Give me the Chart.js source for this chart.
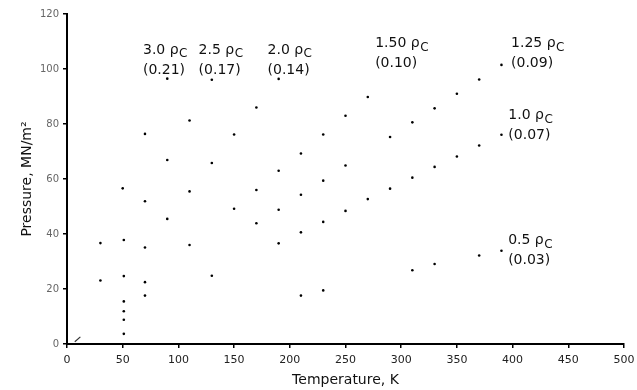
<!DOCTYPE html>
<html>
<head>
<meta charset="utf-8">
<script src="https://cdn.jsdelivr.net/npm/chart.js@4/dist/chart.umd.min.js"></script>
<style>
  html, body { margin: 0; padding: 0; background: #fff; }
  #wrap { width: 637px; height: 390px; }
</style>
</head>
<body>
<div id="wrap"><canvas id="myChart"></canvas></div>
<script>
// isochore points, temperature (K) and pressure (MN/m2)
var t30 = [30, 50, 70, 90];
var p30 = [36.7, 56.6, 76.4, 96.5];
var t25 = [30, 51, 70, 90, 110, 130];
var p25 = [23.1, 37.8, 51.9, 66.9, 81.3, 96.1];
var t20 = [51, 70, 90, 110, 130, 150, 170, 190];
var p20 = [24.7, 35.1, 45.5, 55.5, 65.8, 76.2, 86, 96.4];
var t150 = [70, 110, 150, 170, 190, 210, 230, 250, 270];
var p150 = [22.5, 36, 49.2, 56, 63, 69.3, 76.2, 83, 89.8];
var t125 = [70, 170, 190, 210, 230, 250, 290, 310, 330, 350, 370, 390];
var p125 = [17.6, 43.9, 48.8, 54.3, 59.4, 64.9, 75.3, 80.6, 85.7, 91, 96.2, 101.5];
var t10 = [130, 190, 210, 230, 250, 270, 290, 310, 330, 350, 370, 390];
var p10 = [24.8, 36.6, 40.6, 44.4, 48.4, 52.7, 56.5, 60.5, 64.4, 68.2, 72.2, 76.1];
var t05 = [210, 230, 310, 330, 370, 390];
var p05 = [17.6, 19.5, 26.8, 29.1, 32.2, 33.9];
var tSat = [51, 51, 51, 51];
var pSat = [3.7, 8.8, 11.9, 15.5];
var tCurl = [7, 12];
var pCurl = [0.8, 2.6];

// density labels
var densTxt = ['3.0', '2.5', '2.0', '1.50', '1.25', '1.0', '0.5'];
var densVal = ['(0.21)', '(0.17)', '(0.14)', '(0.10)', '(0.09)', '(0.07)', '(0.03)'];
var densT = [68.2, 118.1, 180, 276.6, 398.6, 396.2, 396];
var densP = [106.9, 106.9, 106.9, 109.2, 109.2, 83, 37.6];

var xTicks = [0, 50, 100, 150, 200, 250, 300, 350, 400, 450, 500];
var yTicks = [0, 20, 40, 60, 80, 100, 120];

function pts(ts, ps) {
    var out = [];
    for (var i = 0; i < ts.length; i++) out.push({x: ts[i], y: ps[i]});
    return out;
}

function dotSet(ts, ps) {
    return {
        data: pts(ts, ps),
        showLine: false,
        pointRadius: 1.3,
        pointBackgroundColor: '#000',
        pointBorderWidth: 0
    };
}

var FONT = '"DejaVu Sans", sans-serif';

const labelPlugin = {
    id: 'densLabels',
    afterDatasetsDraw(chart) {
        const ctx = chart.ctx;
        const xs = chart.scales.x, ys = chart.scales.y;
        ctx.save();
        ctx.fillStyle = '#111';
        ctx.textBaseline = 'middle';
        ctx.textAlign = 'left';
        for (var i = 0; i < densTxt.length; i++) {
            var px = xs.getPixelForValue(densT[i]);
            var py = ys.getPixelForValue(densP[i]);
            ctx.font = '14px ' + FONT;
            var main = densTxt[i] + ' \u03c1';
            ctx.fillText(main, px, py);
            var w = ctx.measureText(main).width;
            ctx.font = '12px ' + FONT;
            ctx.fillText('C', px + w + 0.5, py + 4);
            ctx.font = '14px ' + FONT;
            ctx.fillText(densVal[i], px, py + 20);
        }
        ctx.restore();
    }
};

var datasets = [
    dotSet(t30, p30), dotSet(t25, p25), dotSet(t20, p20), dotSet(t150, p150),
    dotSet(t125, p125), dotSet(t10, p10), dotSet(t05, p05), dotSet(tSat, pSat),
    {
        data: pts(tCurl, pCurl),
        showLine: true,
        borderColor: '#333',
        borderWidth: 1.2,
        pointRadius: 0
    }
];

const config = {
    type: 'scatter',
    data: { datasets: datasets },
    options: {
        responsive: true,
        maintainAspectRatio: false,
        animation: false,
        layout: { padding: { left: 0, right: 13, top: 14, bottom: 0 } },
        plugins: {
            legend: { display: false },
            tooltip: { enabled: false }
        },
        scales: {
            x: {
                type: 'linear',
                min: 0,
                max: 500,
                afterBuildTicks: function (s) { s.ticks = xTicks.map(v => ({value: v})); },
                afterFit: function (s) { s.height = 46; s.paddingRight = 0; s.paddingLeft = 0; },
                border: { display: true, color: '#000', width: 2 },
                grid: { display: true, drawOnChartArea: false, drawTicks: true, tickLength: 4, color: '#000', lineWidth: 1.5 },
                ticks: { padding: 6, color: '#222', font: { family: FONT, size: 11 } },
                title: {
                    display: true,
                    text: 'Temperature, K',
                    color: '#111',
                    font: { family: FONT, size: 14 },
                    padding: { top: 0, bottom: 1.5 }
                }
            },
            y: {
                min: 0,
                max: 120,
                afterBuildTicks: function (s) { s.ticks = yTicks.map(v => ({value: v})); },
                afterFit: function (s) { s.width = 67; s.paddingTop = 0; s.paddingBottom = 0; },
                border: { display: true, color: '#000', width: 2 },
                grid: { display: true, drawOnChartArea: false, drawTicks: true, tickLength: 4, color: '#000', lineWidth: 1.5 },
                ticks: { padding: 4, color: '#666', font: { family: FONT, size: 10 } },
                title: {
                    display: true,
                    text: 'Pressure, MN/m\u00b2',
                    color: '#111',
                    font: { family: FONT, size: 14 },
                    padding: { top: 18.5, bottom: 0 }
                }
            }
        }
    },
    plugins: [labelPlugin]
};

const myChart = new Chart(document.getElementById('myChart'), config);
</script>
</body>
</html>
